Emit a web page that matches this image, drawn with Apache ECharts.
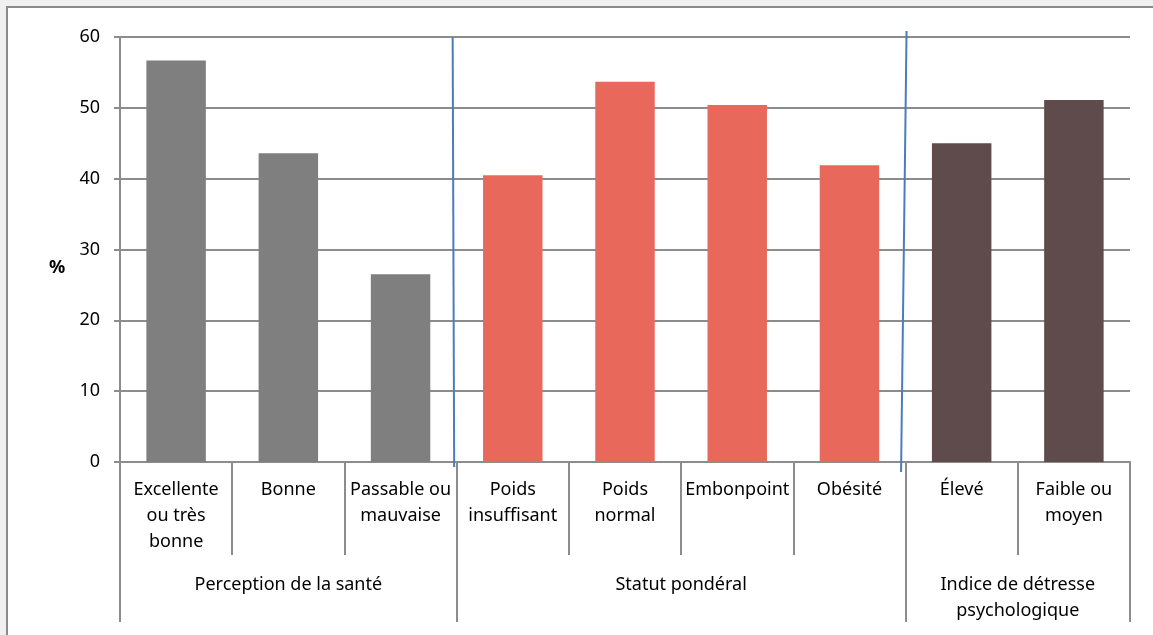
<!DOCTYPE html>
<html>
<head>
<meta charset="utf-8">
<script src="https://cdn.jsdelivr.net/npm/echarts@6/dist/echarts.min.js"></script>
<style>
  html, body { margin: 0; padding: 0; background: #f0f0f0; }
  #chart { width: 1153px; height: 635px; }
</style>
</head>
<body>
<div id="chart"></div>
<script>
// Category labels (one per bar)
const categories = [
  'Excellente\nou très\nbonne', 'Bonne', 'Passable ou\nmauvaise',
  'Poids\ninsuffisant', 'Poids\nnormal', 'Embonpoint', 'Obésité',
  'Élevé', 'Faible ou\nmoyen'
];
// Percentages
const values = [56.7, 43.6, 26.5, 40.5, 53.7, 50.4, 41.9, 45.0, 51.1];
// Groups: label and number of categories in each
const groupNames = ['Perception de la santé', 'Statut pondéral', 'Indice de détresse\npsychologique'];
const groupSizes = [3, 4, 2];
const groupColors = ['#7f7f7f', '#e8695b', '#5f4a4c'];
// Y axis ticks
const yTicks = [0, 10, 20, 30, 40, 50, 60];

// Derived: group boundaries and centres in category units
const groupBounds = [0];
groupSizes.forEach(s => groupBounds.push(groupBounds[groupBounds.length - 1] + s));
const groupCenters = groupSizes.map((s, i) => groupBounds[i] + s / 2);
const barGroup = [];
groupSizes.forEach((s, g) => { for (let k = 0; k < s; k++) barGroup.push(g); });

const FONT = 'Noto Sans';
const AXIS_GREY = '#8c8c8c';

const chart = echarts.init(document.getElementById('chart'));

const frame = {
  type: 'rect', z: -10, silent: true,
  shape: { x: 7, y: 7, width: 1300, height: 800 },
  style: { fill: '#ffffff', stroke: '#8a8a8a', lineWidth: 2 }
};

const option = {
  backgroundColor: 'transparent',
  animation: false,
  textStyle: { fontFamily: FONT },
  grid: { left: 120, right: 23, top: 37, bottom: 173, containLabel: false },
  xAxis: [
    {
      type: 'category',
      data: categories,
      position: 'bottom',
      axisLine: { show: true, lineStyle: { color: AXIS_GREY, width: 2 } },
      axisTick: { show: true, interval: 0, alignWithLabel: false, length: 93,
                  lineStyle: { color: AXIS_GREY, width: 2 } },
      axisLabel: { interval: 0, fontFamily: FONT, fontSize: 18, lineHeight: 26,
                   color: '#000', margin: 15 },
      splitLine: { show: false }
    },
    {
      type: 'value',
      min: 0,
      max: groupBounds[groupBounds.length - 1],
      position: 'bottom',
      axisLine: { show: false },
      axisTick: { show: true, customValues: groupBounds, length: 160,
                  lineStyle: { color: AXIS_GREY, width: 2 } },
      axisLabel: {
        show: true,
        customValues: groupCenters,
        fontFamily: FONT, fontSize: 18, lineHeight: 26, color: '#000',
        margin: 110,
        formatter: function (v) {
          const i = groupCenters.findIndex(c => Math.abs(c - v) < 1e-6);
          return i >= 0 ? groupNames[i] : '';
        }
      },
      splitLine: { show: false }
    }
  ],
  yAxis: {
    type: 'value',
    min: yTicks[0],
    max: yTicks[yTicks.length - 1],
    interval: 10,
    // blank first line drops the symbol a little below the axis middle
    name: '\n%',
    nameLocation: 'middle',
    nameRotate: 0,
    nameGap: 63,
    nameTextStyle: { fontFamily: FONT, fontSize: 18, fontWeight: 'bold', color: '#000',
                     align: 'center', verticalAlign: 'middle', lineHeight: 37 },
    axisLine: { show: true, lineStyle: { color: AXIS_GREY, width: 2 } },
    axisTick: { show: true, length: 6, lineStyle: { color: AXIS_GREY, width: 2 } },
    axisLabel: { fontFamily: FONT, fontSize: 18, color: '#000', margin: 20 },
    splitLine: { show: true, lineStyle: { color: AXIS_GREY, width: 2 } }
  },
  series: [{
    type: 'bar',
    xAxisIndex: 0,
    yAxisIndex: 0,
    barWidth: '53%',
    data: values.map((v, i) => ({ value: v, itemStyle: { color: groupColors[barGroup[i]] } }))
  }],
  graphic: [frame]
};

chart.setOption(option);

// Blue hand-drawn separators between the groups
const yTop = chart.convertToPixel({ yAxisIndex: 0 }, yTicks[yTicks.length - 1]);
const yBottom = chart.convertToPixel({ yAxisIndex: 0 }, yTicks[0]);
const b1 = chart.convertToPixel({ xAxisIndex: 1 }, groupBounds[1]);
const b2 = chart.convertToPixel({ xAxisIndex: 1 }, groupBounds[2]);
chart.setOption({
  graphic: [
    frame,
    {
      type: 'line', z: 10, silent: true,
      shape: { x1: b1 - 4, y1: yTop, x2: b1 - 2.5, y2: yBottom + 5 },
      style: { stroke: '#4a7ebb', lineWidth: 2 }
    },
    {
      type: 'line', z: 10, silent: true,
      shape: { x1: b2 + 1, y1: yTop - 6, x2: b2 - 4.5, y2: yBottom + 10 },
      style: { stroke: '#4a7ebb', lineWidth: 2 }
    }
  ]
});
</script>
</body>
</html>
